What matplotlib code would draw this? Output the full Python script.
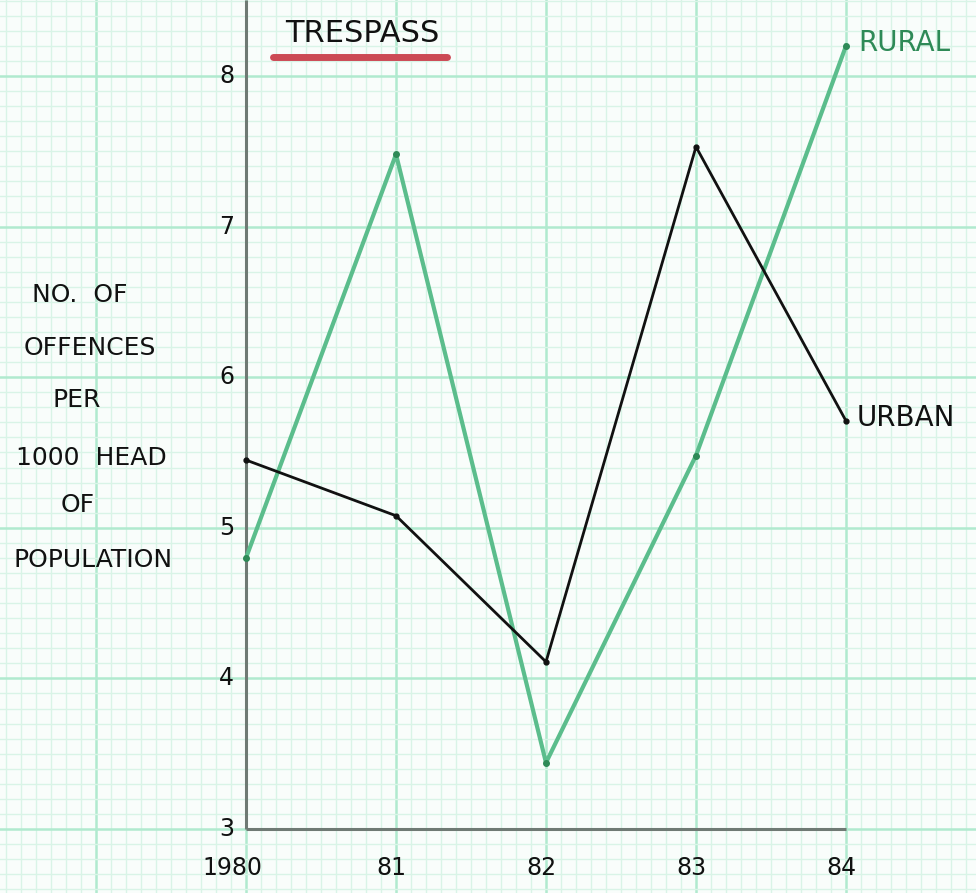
import numpy as np
import matplotlib
matplotlib.use("Agg")
import matplotlib.pyplot as plt

years = [1980, 1981, 1982, 1983, 1984]
year_labels = ["1980", "81", "82", "83", "84"]
rural = [4.80, 7.48, 3.44, 5.48, 8.20]
urban = [5.45, 5.08, 4.11, 7.53, 5.71]
y_ticks = [3, 4, 5, 6, 7, 8]

W, H = 976, 893
fig = plt.figure(figsize=(W / 100, H / 100), dpi=100)
fig.patch.set_facecolor("#f9fdfb")
ax = fig.add_axes([0, 0, 1, 1])
ax.set_facecolor("#f9fdfb")

# pixel mapping: x=246px -> 1980, 150px per year; y=829px -> 3, 150.6px per unit
xpx, ypx = 150.0, 150.6
x0 = 1980 - 246 / xpx
x1 = 1980 + (W - 246) / xpx
y0 = 3 - (H - 829) / ypx
y1 = 3 + 829 / ypx

# graph paper
ax.set_xticks(np.arange(1978, 1986, 1.0))
ax.set_xticks(np.arange(1978, 1986, 0.1), minor=True)
ax.set_yticks(np.arange(2, 10, 1.0))
ax.set_yticks(np.arange(2, 10, 0.1), minor=True)
ax.grid(which="minor", color="#d9f4e7", lw=1.0)
ax.grid(which="major", color="#b0eacf", lw=1.8)
ax.tick_params(which="both", length=0, labelbottom=False, labelleft=False)
for s in ax.spines.values():
    s.set_visible(False)
ax.set_axisbelow(True)
ax.set_xlim(x0, x1)
ax.set_ylim(y0, y1)

# axes lines
ax.plot([1980, 1980], [3, y1], color="#6f7a74", lw=2.2, solid_capstyle="butt", zorder=3)
ax.plot([1980, 1984], [3, 3], color="#6f7a74", lw=2.2, solid_capstyle="butt", zorder=3)

# series
ax.plot(years, rural, color="#5bbd8c", lw=3.0, marker="o", ms=4, mfc="#2e8a57", mec="#2e8a57", zorder=4)
ax.plot(years, urban, color="#111111", lw=2.0, marker="o", ms=3.5, zorder=5)

font = "DejaVu Sans"
# y tick labels
for v in y_ticks:
    ax.text(1979.87, v, str(v), ha="center", va="center", fontsize=17, family=font, color="#111111")
# x tick labels
for yr, lab in zip(years, year_labels):
    off = -0.09 if yr == 1980 else -0.03
    ax.text(yr + off, 2.74, lab, ha="center", va="center", fontsize=17, family=font, color="#111111")

# title with red underline
ax.text(1980 + (362 - 246) / xpx, 3 + (829 - 34) / ypx, "TRESPASS", ha="center", va="center",
        fontsize=22, family=font, color="#111111")
ax.plot([1980 + (273 - 246) / xpx, 1980 + (447 - 246) / xpx], [3 + (829 - 57) / ypx] * 2,
        color="#cc4a55", lw=5, solid_capstyle="round", zorder=4)

# series labels
ax.text(1984.08, rural[-1] + 0.02, "RURAL", ha="left", va="center", fontsize=20, family=font, color="#2e8a57")
ax.text(1984.07, urban[-1] + 0.02, "URBAN", ha="left", va="center", fontsize=20, family=font, color="#111111")

# y-axis title lines (x px center, y px)
ylab_lines = [("NO.  OF", 80, 295), ("OFFENCES", 90, 348), ("PER", 77, 400),
              ("1000  HEAD", 91, 458), ("OF", 78, 505), ("POPULATION", 93, 560)]
for txt, px, py in ylab_lines:
    ax.text(1980 + (px - 246) / xpx, 3 + (829 - py) / ypx, txt, ha="center", va="center",
            fontsize=18, family=font, color="#111111")

fig.savefig("out.png", dpi=100, facecolor=fig.get_facecolor())
